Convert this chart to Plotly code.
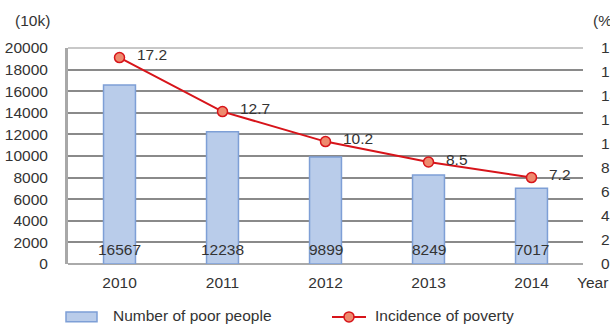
import plotly.graph_objects as go

# Poverty statistics, 2010-2014
years = ["2010", "2011", "2012", "2013", "2014"]
poor_people = [16567, 12238, 9899, 8249, 7017]        # unit: 10k people
poverty_rate = [17.2, 12.7, 10.2, 8.5, 7.2]           # unit: %

left_ticks = list(range(0, 20001, 2000))
right_ticks = list(range(0, 19, 2))

FONT = "Liberation Sans, Arial, sans-serif"
TXT = "#333333"
FS = 15.5
BAR_FILL = "#B9CCEA"
BAR_EDGE = "#7E9FD6"
LINE_RED = "#D7141A"
MARK_FILL = "#EE8A6E"

W, H = 610, 324
ML, MR, MT, MB = 68, 27, 47.5, 60
PW, PH = W - ML - MR, H - MT - MB


def px_x(px):
    return (px - ML) / PW


def px_y(py):
    return (H - MB - py) / PH


fig = go.Figure()

fig.add_trace(go.Bar(
    x=years, y=poor_people, name="Number of poor people",
    marker=dict(color=BAR_FILL, line=dict(color=BAR_EDGE, width=1.5)),
    hoverinfo="skip",
))

fig.add_trace(go.Scatter(
    x=years, y=poverty_rate, name="Incidence of poverty", yaxis="y2",
    mode="lines+markers",
    line=dict(color=LINE_RED, width=2),
    marker=dict(size=10, color=MARK_FILL, line=dict(color=LINE_RED, width=1.5)),
    hoverinfo="skip",
))

annotations = []

# values at the base of each bar (category index as x position)
for i, v in enumerate(poor_people):
    annotations.append(dict(
        x=i, y=0, xref="x", yref="y", text=str(v), showarrow=False,
        xanchor="center", yanchor="bottom", yshift=4,
        font=dict(family=FONT, size=FS, color=TXT),
    ))

# values beside each point of the line
for i, v in enumerate(poverty_rate):
    annotations.append(dict(
        x=i, y=v, xref="x", yref="y2", text=f"{v:.1f}", showarrow=False,
        xanchor="left", yanchor="middle", xshift=15, yshift=3,
        font=dict(family=FONT, size=FS, color=TXT),
    ))

# axis units
annotations += [
    dict(x=px_x(13), y=px_y(20), xref="paper", yref="paper", text="(10k)",
         showarrow=False, xanchor="left", yanchor="middle",
         font=dict(family=FONT, size=FS, color=TXT)),
    dict(x=px_x(591), y=px_y(20), xref="paper", yref="paper", text="(%)",
         showarrow=False, xanchor="left", yanchor="middle",
         font=dict(family=FONT, size=FS, color=TXT)),
    dict(x=px_x(575), y=px_y(283), xref="paper", yref="paper", text="Year",
         showarrow=False, xanchor="left", yanchor="middle",
         font=dict(family=FONT, size=FS, color=TXT)),
]

# legend
annotations += [
    dict(x=px_x(111), y=px_y(316), xref="paper", yref="paper",
         text="Number of poor people", showarrow=False,
         xanchor="left", yanchor="middle",
         font=dict(family=FONT, size=FS, color=TXT)),
    dict(x=px_x(373), y=px_y(316), xref="paper", yref="paper",
         text="Incidence of poverty", showarrow=False,
         xanchor="left", yanchor="middle",
         font=dict(family=FONT, size=FS, color=TXT)),
]

shapes = [
    # top border of the plot area
    dict(type="line", xref="paper", yref="paper", x0=0, x1=1, y0=1, y1=1,
         line=dict(color="#C8C8C8", width=2), layer="above"),
    # legend keys
    dict(type="rect", xref="paper", yref="paper",
         x0=px_x(66), x1=px_x(97), y0=px_y(322), y1=px_y(312),
         fillcolor=BAR_FILL, line=dict(color=BAR_EDGE, width=1.5)),
    dict(type="line", xref="paper", yref="paper",
         x0=px_x(332), x1=px_x(366), y0=px_y(317), y1=px_y(317),
         line=dict(color=LINE_RED, width=2)),
    dict(type="circle", xref="paper", yref="paper",
         xsizemode="pixel", ysizemode="pixel",
         xanchor=px_x(349), yanchor=px_y(317),
         x0=-5, x1=5, y0=-5, y1=5,
         fillcolor=MARK_FILL, line=dict(color=LINE_RED, width=1.5)),
]

fig.update_layout(
    width=W, height=H,
    margin=dict(l=ML, r=MR, t=MT, b=MB, pad=0),
    paper_bgcolor="white", plot_bgcolor="white",
    showlegend=False,
    bargap=0.69,
    font=dict(family=FONT, size=FS, color=TXT),
    xaxis=dict(
        type="category", range=[-0.5, len(years) - 0.5], autorange=False,
        showgrid=False, zeroline=False,
        showline=False, ticks="outside", ticklen=0,
        ticklabelstandoff=4,
        tickfont=dict(family=FONT, size=FS, color=TXT),
        fixedrange=True,
    ),
    yaxis=dict(
        range=[0, 20000], autorange=False, tickvals=left_ticks, tickformat="d",
        showgrid=True, gridcolor="#8A8A8A", gridwidth=2,
        zeroline=True, zerolinecolor="#AAAAAA", zerolinewidth=2,
        showline=True, linecolor="#A8A8A8", linewidth=3,
        ticks="outside", ticklen=0, ticklabelstandoff=14,
        tickfont=dict(family=FONT, size=FS, color=TXT),
        automargin=False, fixedrange=True,
    ),
    yaxis2=dict(
        range=[0, 18], autorange=False, tickvals=right_ticks, tickformat="d",
        overlaying="y", side="right",
        showgrid=False, zeroline=False, showline=False,
        ticks="outside", ticklen=0, ticklabelstandoff=14,
        tickfont=dict(family=FONT, size=FS, color=TXT),
        automargin=False, fixedrange=True,
    ),
    annotations=annotations,
    shapes=shapes,
)

fig.write_html("out.html", config={"displayModeBar": False})
